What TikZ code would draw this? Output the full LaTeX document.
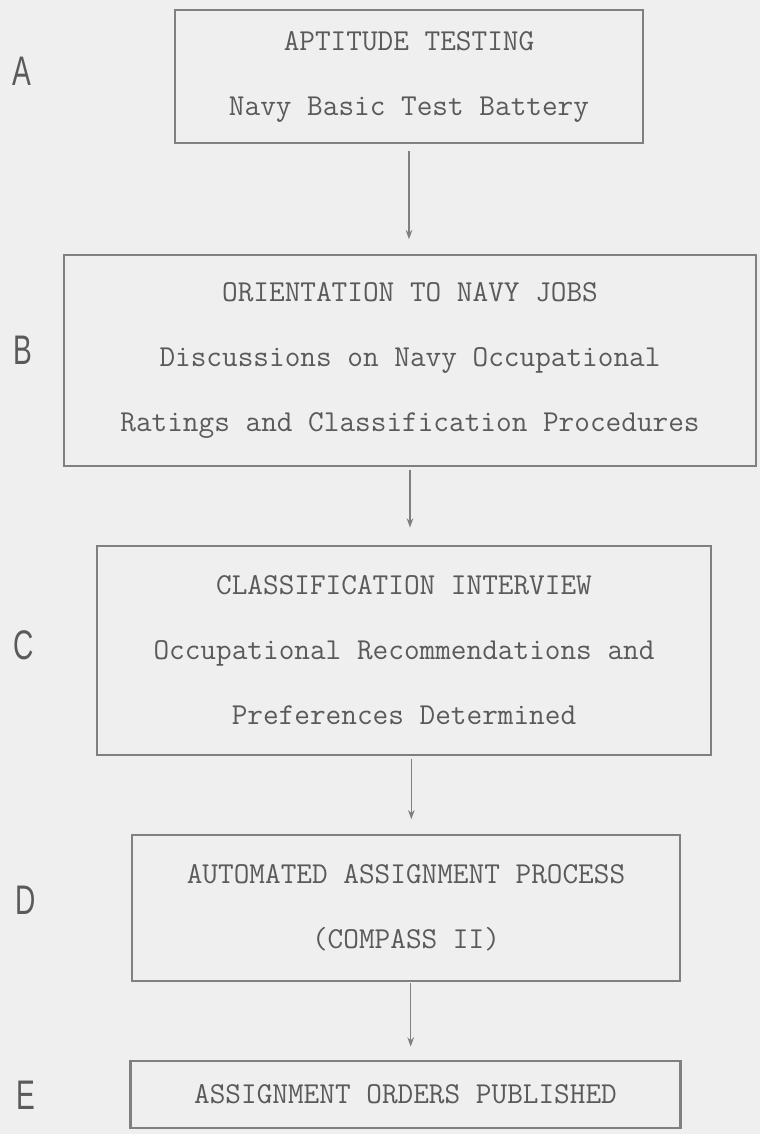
\documentclass[tikz,border=0pt]{standalone}
\usepackage{fontspec}
\usepackage{graphicx}
\newfontfamily\labelfont{Liberation Sans}
\usetikzlibrary{arrows.meta}

\definecolor{paper}{RGB}{239,239,239}
\definecolor{inkline}{RGB}{128,128,128}
\definecolor{inktext}{RGB}{90,90,90}

\tikzset{
  stagebox/.style={draw=inkline, line width=1.6pt, inner sep=0pt, align=center,
    text=inktext, font=\ttfamily\fontsize{22.8}{48.75}\selectfont},
  stageletter/.style={text=inktext, inner sep=0pt, font=\labelfont\fontsize{31}{31}\selectfont},
  flowarrow/.style={-{Stealth[length=7pt,width=5pt]}, draw=inkline, line width=0.9pt}
}

\begin{document}
\begin{tikzpicture}[x=0.75pt,y=-0.75pt]

\fill[paper] (0,0) rectangle (760,1134);
\useasboundingbox (0,0) rectangle (760,1134);

% stages
\node[stagebox, minimum width=468*0.75pt, minimum height=133*0.75pt] (aptitude) at (409,76.5)
  {APTITUDE TESTING\\Navy Basic Test Battery};
\node[stagebox, minimum width=692*0.75pt, minimum height=211*0.75pt] (orientation) at (410,360.5)
  {ORIENTATION TO NAVY JOBS\\Discussions on Navy Occupational\\Ratings and Classification Procedures};
\node[stagebox, minimum width=614*0.75pt, minimum height=209*0.75pt] (interview) at (404,650.5)
  {CLASSIFICATION INTERVIEW\\Occupational Recommendations and\\Preferences Determined};
\node[stagebox, minimum width=548*0.75pt, minimum height=146*0.75pt] (assignment) at (406,908)
  {AUTOMATED ASSIGNMENT PROCESS\\(COMPASS II)};
\node[stagebox, minimum width=550*0.75pt, minimum height=67*0.75pt] (orders) at (405.5,1094.5)
  {ASSIGNMENT ORDERS PUBLISHED};

% letters
\node[stageletter] (letterA) at (22,71) {\scalebox{0.68}[1]{A}};
\node[stageletter] (letterB) at (23,350) {\scalebox{0.68}[1]{B}};
\node[stageletter] (letterC) at (24,645) {\scalebox{0.68}[1]{C}};
\node[stageletter] (letterD) at (26,900) {\scalebox{0.68}[1]{D}};
\node[stageletter] (letterE) at (26,1095) {\scalebox{0.68}[1]{E}};

% arrows
\draw[flowarrow, shorten <=5pt, shorten >=11pt] (aptitude.south) -- (aptitude.south |- orientation.north);
\draw[flowarrow, shorten <=2pt, shorten >=13pt] (orientation.south) -- (orientation.south |- interview.north);
\draw[flowarrow, shorten <=2pt, shorten >=11pt] ([xshift=5.5pt]interview.south) -- ([xshift=5.5pt]interview.south |- assignment.north);
\draw[flowarrow, shorten <=1pt, shorten >=10pt] ([xshift=3.5pt]assignment.south) -- ([xshift=3.5pt]assignment.south |- orders.north);

\end{tikzpicture}
\end{document}
